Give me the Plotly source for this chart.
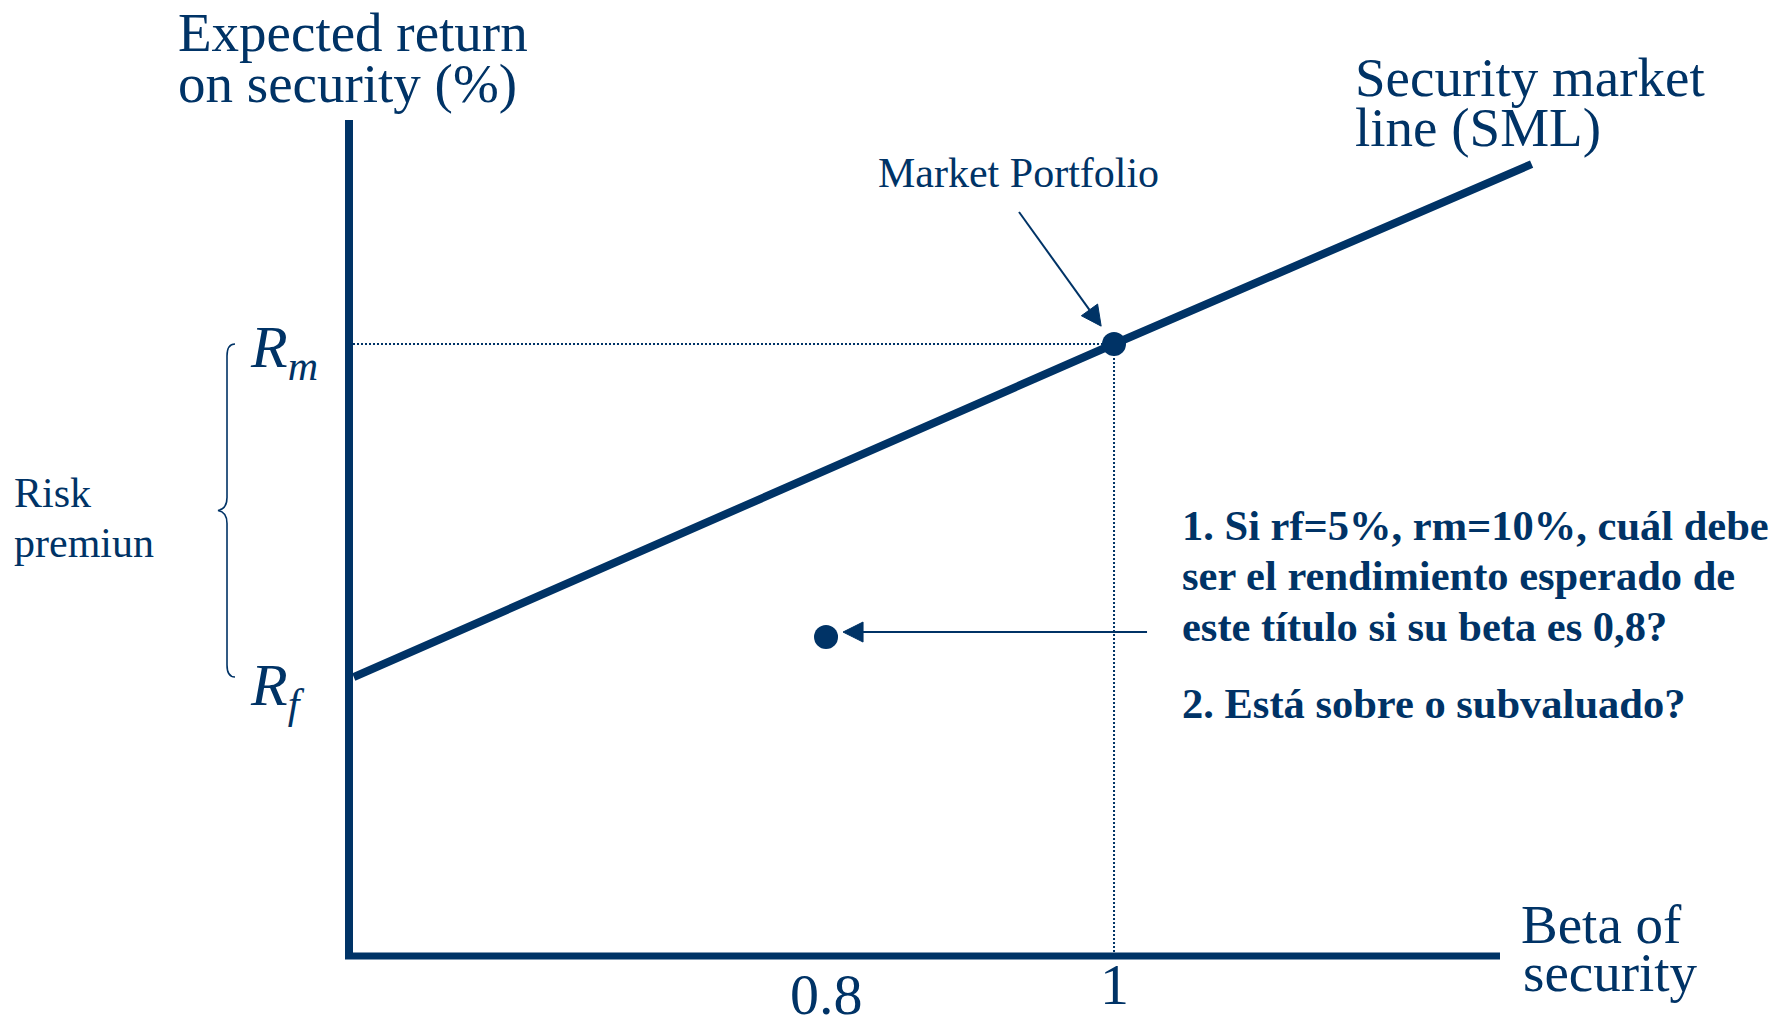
import math
import plotly.graph_objects as go

NAVY = "#003366"
SERIF = "Liberation Serif, Times New Roman, serif"

# Security market line inputs (returns in %)
rf = 5.0
rm = 10.0
sml_beta = [0.472, 1.0, 1.29]
sml_return = [5.0, 10.0, 12.7]

market_beta = [1.0]
market_return = [10.0]

asset_beta = [0.8]
asset_return = [5.6]

tick_betas = [0.8, 1.0]
tick_labels = ["0.8", "1"]

x_range = [0.4715, 1.2993]
y_range = [0.811, 13.363]

# page geometry (pixels)
FIG_W, FIG_H = 1778, 1018
PL, PR, PT, PB = 353, 1545, 120, 956
PW, PH = PR - PL, PB - PT


def px(x):
    return (x - PL) / PW


def py(y):
    return (PB - y) / PH


def x_pixel(b):
    return PL + (b - x_range[0]) / (x_range[1] - x_range[0]) * PW


def y_pixel(v):
    return PB - (v - y_range[0]) / (y_range[1] - y_range[0]) * PH


fig = go.Figure()

# guide lines to the market portfolio
fig.add_trace(go.Scatter(
    x=[x_range[0], market_beta[0]], y=[market_return[0], market_return[0]],
    mode="lines", line=dict(color=NAVY, width=2, dash="2px,2px"),
    hoverinfo="skip"))
fig.add_trace(go.Scatter(
    x=[market_beta[0], market_beta[0]], y=[y_range[0], market_return[0]],
    mode="lines", line=dict(color=NAVY, width=2, dash="2px,2px"),
    hoverinfo="skip"))

# security market line
fig.add_trace(go.Scatter(
    x=sml_beta, y=sml_return, mode="lines",
    line=dict(color=NAVY, width=8), hoverinfo="skip"))

# market portfolio and the security under study
fig.add_trace(go.Scatter(
    x=market_beta, y=market_return, mode="markers",
    marker=dict(color=NAVY, size=24), hoverinfo="skip"))
fig.add_trace(go.Scatter(
    x=asset_beta, y=asset_return, mode="markers",
    marker=dict(color=NAVY, size=24), hoverinfo="skip"))

annotations = []


def text_at(txt, x, y, size, xanchor="left", bold=False):
    if bold:
        txt = "<b>" + txt + "</b>"
    annotations.append(dict(
        text=txt, x=px(x), y=py(y), xref="paper", yref="paper",
        xanchor=xanchor, yanchor="middle", showarrow=False,
        font=dict(family=SERIF, size=size, color=NAVY)))


text_at("Expected return", 176, 33, 55)
text_at("on security (%)", 176, 83, 55)
text_at("Security market", 1353, 78, 55)
text_at("line (SML)", 1353, 127, 55)
text_at("Market Portfolio", 876, 173, 42)
text_at("Risk", 12, 493, 42)
text_at("premiun", 12, 543, 42)
text_at("Beta of", 1519, 924, 55)
text_at("security", 1521, 973, 55)

questions = [
    ("1. Si rf=5%, rm=10%, cuál debe", 525),
    ("ser el rendimiento esperado de", 575),
    ("este título si su beta es 0,8?", 626),
    ("2. Está sobre o subvaluado?", 703),
]
for q, yy in questions:
    text_at(q, 1180, yy, 42.5, bold=True)

# beta labels under the axis
tick_centres = [994, 984]
for b, lab, yc in zip(tick_betas, tick_labels, tick_centres):
    annotations.append(dict(
        text=lab, x=b, y=py(yc), xref="x", yref="paper",
        xanchor="center", yanchor="middle", showarrow=False,
        font=dict(family=SERIF, size=58, color=NAVY)))

# return labels beside the vertical axis
for lab, val, shift in [("<i>R<sub>m</sub></i>", rm, -8), ("<i>R<sub>f</sub></i>", rf, -12)]:
    annotations.append(dict(
        text=lab, x=px(248), y=val, xref="paper", yref="y",
        xanchor="left", yanchor="middle", yshift=shift, showarrow=False,
        font=dict(family=SERIF, size=60, color=NAVY)))


def arrow_shapes(head_x, head_y, dx, dy, standoff, head_len=20, head_half=10, width=2):
    """Arrow pointing at a data point; tail offset (dx, dy) in pixels."""
    hx, hy = x_pixel(head_x), y_pixel(head_y)
    tx, ty = hx + dx, hy + dy
    L = math.hypot(dx, dy)
    ux, uy = dx / L, dy / L
    tipx, tipy = hx + standoff * ux, hy + standoff * uy
    bx, by = tipx + head_len * ux, tipy + head_len * uy
    nx, ny = -uy, ux
    shaft = dict(type="line", xref="paper", yref="paper",
                 x0=px(tx), y0=py(ty), x1=px(bx), y1=py(by),
                 line=dict(color=NAVY, width=width))
    tri = (f"M {px(tipx):.5f},{py(tipy):.5f} "
           f"L {px(bx + head_half * nx):.5f},{py(by + head_half * ny):.5f} "
           f"L {px(bx - head_half * nx):.5f},{py(by - head_half * ny):.5f} Z")
    head = dict(type="path", path=tri, xref="paper", yref="paper",
                fillcolor=NAVY, line=dict(color=NAVY, width=1))
    return [shaft, head]


# curly brace spanning the risk premium
yt, yb = y_pixel(rm), y_pixel(rf)
ym = (yt + yb) / 2
pts = [
    ("M", [(235, yt)]),
    ("C", [(229, yt), (227, yt + 4), (227, yt + 12)]),
    ("L", [(227, ym - 13)]),
    ("C", [(227, ym - 5), (224, ym - 1), (218, ym)]),
    ("C", [(224, ym + 1), (227, ym + 5), (227, ym + 13)]),
    ("L", [(227, yb - 12)]),
    ("C", [(227, yb - 4), (229, yb), (235, yb)]),
]
path = " ".join(
    cmd + " " + " ".join(f"{px(a):.5f},{py(b):.5f}" for a, b in coords)
    for cmd, coords in pts)

shapes = [
    dict(type="path", path=path, xref="paper", yref="paper",
         line=dict(color=NAVY, width=1.6)),
    # horizontal axis line
    dict(type="line", xref="paper", yref="paper",
         x0=px(345), x1=px(1500), y0=0, y1=0,
         line=dict(color=NAVY, width=7)),
]
# pointer from the "Market Portfolio" label to the market point
shapes += arrow_shapes(market_beta[0], market_return[0], -95, -132, 22)
# pointer from the question to the security (slightly above its centre)
shapes += arrow_shapes(asset_beta[0], asset_return[0] + 5 / (PH / (y_range[1] - y_range[0])),
                       321, 0, 17)

fig.update_layout(
    width=FIG_W, height=FIG_H,
    margin=dict(l=PL, r=FIG_W - PR, t=PT, b=FIG_H - PB),
    paper_bgcolor="white", plot_bgcolor="white",
    showlegend=False, hovermode=False,
    xaxis=dict(range=x_range, showgrid=False, zeroline=False,
               showticklabels=False, showline=False, ticks=""),
    yaxis=dict(range=y_range, showgrid=False, zeroline=False,
               showticklabels=False, showline=True, linewidth=8,
               linecolor=NAVY, ticks=""),
    annotations=annotations, shapes=shapes,
)

fig.write_html("out.html")
